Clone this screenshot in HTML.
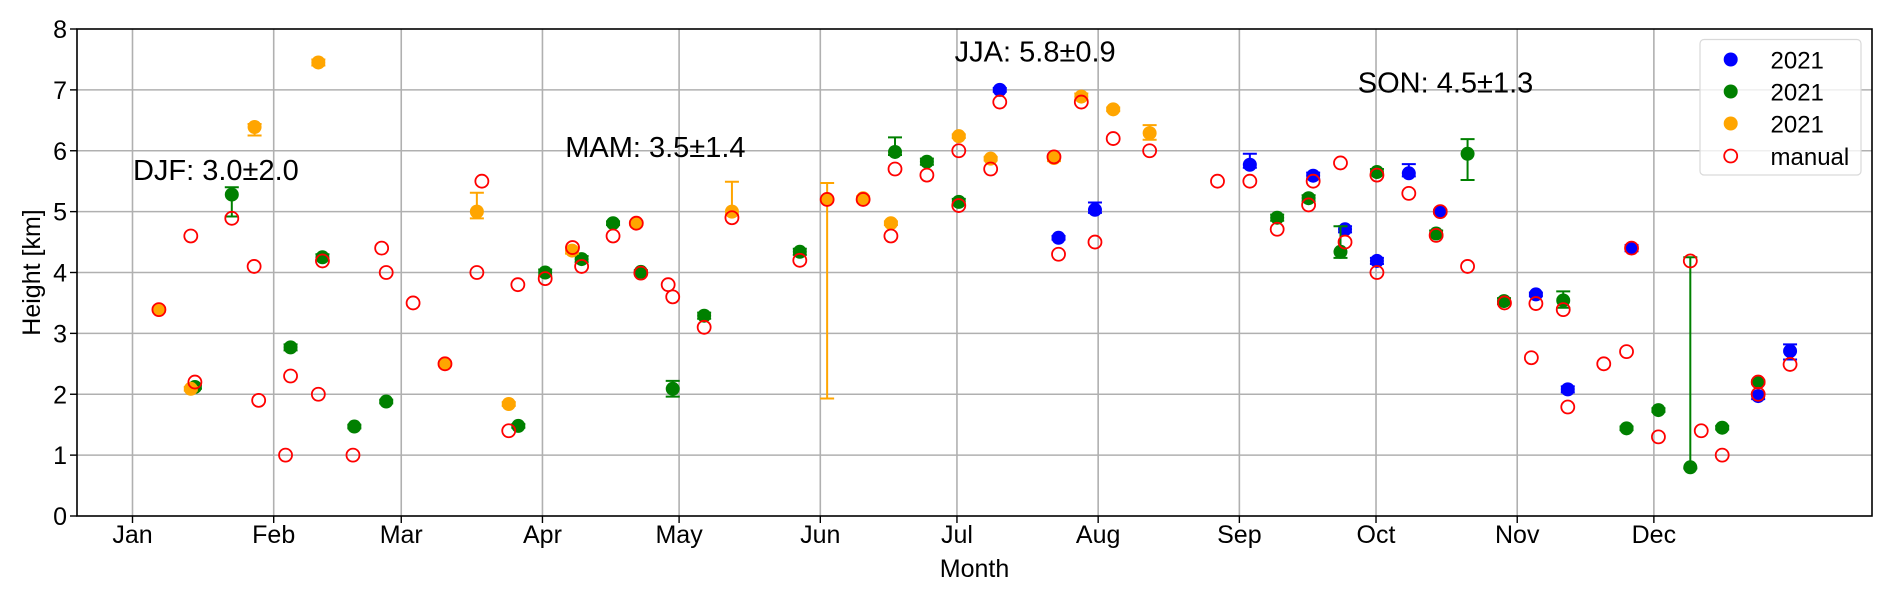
<!DOCTYPE html>
<html><head><meta charset="utf-8">
<style>
html,body{margin:0;padding:0;background:#fff;}
svg{display:block;font-family:"Liberation Sans","DejaVu Sans",sans-serif;}
</style></head>
<body>
<svg id="chart" width="1892" height="598" viewBox="0 0 1892 598" xmlns="http://www.w3.org/2000/svg">
<rect x="0" y="0" width="1892" height="598" fill="#fff"/>
<g id="grid"></g>
<g id="axes"></g>
<g id="marks"></g>
<g id="annots"></g>
<g id="legend"></g>
</svg>
<script>
// ---- data ----
const monthTickDoy = [1,32,60,91,121,152,182,213,244,274,305,335];
const monthTickLabels = ["Jan","Feb","Mar","Apr","May","Jun","Jul","Aug","Sep","Oct","Nov","Dec"];
const yTicks = [0,1,2,3,4,5,6,7,8];

const blueDoy = [191.4,204.3,212.3,246.3,260.2,267.2,274.2,281.2,288.1,309.1,316.1,330.1,357.9,364.9];
const blueVal = [7.0,4.57,5.03,5.77,5.59,4.71,4.19,5.63,5.0,3.64,2.08,4.4,1.97,2.71];
const blueErrLo = [0.03,0.03,0.05,0.05,0.05,0.05,0.05,0.05,0.03,0.03,0.05,0.05,0.05,0.14];
const blueErrHi = [0.03,0.03,0.12,0.18,0.05,0.05,0.05,0.15,0.03,0.03,0.05,0.05,0.05,0.11];

const greenDoy = [14.7,22.8,35.7,42.7,49.7,56.7,85.7,91.6,99.6,106.5,112.6,119.6,126.5,147.5,168.4,175.4,182.4,252.3,259.2,266.2,274.2,287.2,294.1,302.1,315.1,329.0,336.0,343.0,350.0,357.9];
const greenVal = [2.12,5.28,2.77,4.25,1.47,1.88,1.48,4.0,4.22,4.81,4.01,2.09,3.29,4.34,5.98,5.82,5.16,4.9,5.22,4.34,5.65,4.64,5.95,3.53,3.54,1.44,1.74,0.8,1.45,2.2];
const greenErrLo = [0.03,0.36,0.05,0.05,0.03,0.03,0.03,0.05,0.05,0.03,0.03,0.13,0.05,0.05,0.05,0.05,0.05,0.05,0.05,0.1,0.05,0.05,0.43,0.05,0.12,0.03,0.03,0.02,0.03,0.03];
const greenErrHi = [0.03,0.12,0.05,0.05,0.03,0.03,0.03,0.05,0.05,0.03,0.03,0.13,0.05,0.05,0.24,0.05,0.05,0.05,0.05,0.42,0.05,0.05,0.24,0.05,0.15,0.03,0.03,3.45,0.03,0.03];

const orangeDoy = [6.8,13.8,27.8,41.8,69.6,76.6,83.6,97.5,111.6,132.6,153.5,161.4,167.5,182.4,189.4,203.3,209.3,216.3,224.3];
const orangeVal = [3.39,2.09,6.39,7.45,2.5,5.0,1.84,4.36,4.81,5.0,5.2,5.22,4.81,6.24,5.87,5.88,6.89,6.68,6.29];
const orangeErrLo = [0.03,0.03,0.14,0.05,0.03,0.11,0.03,0.05,0.03,0.05,3.27,0.03,0.03,0.03,0.03,0.05,0.05,0.03,0.11];
const orangeErrHi = [0.03,0.03,0.05,0.05,0.03,0.31,0.03,0.05,0.03,0.49,0.27,0.03,0.03,0.03,0.03,0.05,0.05,0.03,0.13];

const manualDoy = [6.8,13.8,14.7,22.8,27.7,28.7,34.6,35.7,41.8,42.7,49.4,55.7,56.7,62.6,69.6,76.6,77.7,83.6,85.6,91.6,97.6,99.6,106.5,111.6,112.6,118.6,119.6,126.5,132.6,147.5,153.5,161.4,167.5,168.4,175.4,182.4,182.4,189.4,191.4,203.3,204.3,209.3,212.3,216.3,224.3,239.2,246.3,252.3,259.2,260.2,266.2,267.2,274.2,274.2,281.2,287.2,288.1,294.1,302.2,308.1,309.1,315.1,316.1,324.0,329.0,330.1,336.0,343.0,345.4,350.0,357.9,357.9,364.9];
const manualVal = [3.39,4.6,2.2,4.89,4.1,1.9,1.0,2.3,2.0,4.19,1.0,4.4,4.0,3.5,2.5,4.0,5.5,1.4,3.8,3.9,4.41,4.1,4.6,4.81,3.99,3.8,3.6,3.1,4.9,4.2,5.2,5.2,4.6,5.7,5.6,6.0,5.1,5.7,6.8,5.9,4.3,6.8,4.5,6.2,6.0,5.5,5.5,4.71,5.11,5.5,5.8,4.5,5.6,4.0,5.3,4.61,5.0,4.1,3.5,2.6,3.49,3.39,1.79,2.5,2.7,4.4,1.3,4.19,1.4,1.0,2.2,2.0,2.49];

const seasonLabels = ["DJF: 3.0\u00b12.0","MAM: 3.5\u00b11.4","JJA: 5.8\u00b10.9","SON: 4.5\u00b11.3"];
const seasonDoy = [1.1,96.0,181.5,270.0];
const seasonVal = [5.52,5.9,7.47,6.96];
const legendLabels = ["2021","2021","2021","manual"];

// ---- scales ----
const L=77,R=1872,T=29,B=516;
const X0=132.5, PXD=4.555;
function xs(d){return X0+(d-1)*PXD;}
function ys(v){return B-(v/8)*(B-T);}
const NS="http://www.w3.org/2000/svg";
function mk(tag,attrs,parent){const e=document.createElementNS(NS,tag);for(const k in attrs)e.setAttribute(k,attrs[k]);parent.appendChild(e);return e;}

const grid=document.getElementById('grid'),axes=document.getElementById('axes'),marks=document.getElementById('marks'),annots=document.getElementById('annots'),legend=document.getElementById('legend');

// grid
monthTickDoy.forEach((d,i)=>{
  const l=mk('line',{x1:xs(d),x2:xs(d),y1:T,y2:B,stroke:'#b0b0b0','stroke-width':1.6},grid);
  
  
  const t=mk('line',{x1:xs(d),x2:xs(d),y1:B,y2:B+7,stroke:'#000','stroke-width':1.4},axes);
  
  
  const tx=mk('text',{x:xs(d),y:543,'font-size':25,'text-anchor':'middle',fill:'#000'},axes);
  tx.textContent=monthTickLabels[i];
  
  
});
yTicks.forEach(v=>{
  if(v>0&&v<8){
    const l=mk('line',{x1:L,x2:R,y1:ys(v),y2:ys(v),stroke:'#b0b0b0','stroke-width':1.6},grid);
    
    
  }
  const t=mk('line',{x1:L-7,x2:L,y1:ys(v),y2:ys(v),stroke:'#000','stroke-width':1.4},axes);
  
  
  const tx=mk('text',{x:67,y:ys(v)+9,'font-size':25,'text-anchor':'end',fill:'#000'},axes);
  tx.textContent=v;
  
  
});
const frame=mk('rect',{x:L,y:T,width:R-L,height:B-T,fill:'none',stroke:'#000','stroke-width':1.6},axes);


const xl=mk('text',{x:(L+R)/2,y:577,'font-size':25,'text-anchor':'middle'},axes);
xl.textContent='Month';


const yl=mk('text',{x:0,y:0,'font-size':25,'text-anchor':'middle',transform:'translate(40,'+((T+B)/2)+') rotate(-90)'},axes);
yl.textContent='Height [km]';



// series
function drawSeries(name,color,doy,val,lo,hi){
  const g=mk('g',{},marks);
  
  
  doy.forEach((d,i)=>{
    const x=xs(d),y=ys(val[i]),y1=ys(val[i]+hi[i]),y2=ys(val[i]-lo[i]);
    const eb=mk('path',{d:`M${x},${y1}V${y2}M${x-7},${y1}H${x+7}M${x-7},${y2}H${x+7}`,stroke:color,'stroke-width':2,fill:'none'},g);
    
    
    const c=mk('circle',{cx:x,cy:y,r:7,fill:color},g);
    
    
  });
}
drawSeries('blue','#0000ff',blueDoy,blueVal,blueErrLo,blueErrHi);
drawSeries('green','#008000',greenDoy,greenVal,greenErrLo,greenErrHi);
drawSeries('orange','#ffa500',orangeDoy,orangeVal,orangeErrLo,orangeErrHi);
const mg=mk('g',{},marks);


manualDoy.forEach((d,i)=>{
  const c=mk('circle',{cx:xs(d),cy:ys(manualVal[i]),r:6.5,fill:'none',stroke:'#ff0000','stroke-width':1.8},mg);
  
  
});

// annotations
seasonLabels.forEach((s,i)=>{
  const t=mk('text',{x:xs(seasonDoy[i]),y:ys(seasonVal[i]),'font-size':29,fill:'#000'},annots);
  t.textContent=s;
  
  
});

// legend
const lb=mk('rect',{x:1700,y:39.5,width:161,height:135.5,rx:4,fill:'#fff','fill-opacity':0.8,stroke:'#d9d9d9','stroke-width':1.2},legend);


const legColors=['#0000ff','#008000','#ffa500',null];
const legY=[59.5,91.5,123.5,156];
legendLabels.forEach((s,i)=>{
  const g=mk('g',{},legend);
  
  
  if(legColors[i]) mk('circle',{cx:1730.7,cy:legY[i],r:7,fill:legColors[i]},g);
  else mk('circle',{cx:1730.7,cy:legY[i],r:6.5,fill:'none',stroke:'#ff0000','stroke-width':1.8},g);
  const t=mk('text',{x:1770.5,y:legY[i]+9,'font-size':24,fill:'#000'},g);
  t.textContent=s;
});
</script>
</body></html>
